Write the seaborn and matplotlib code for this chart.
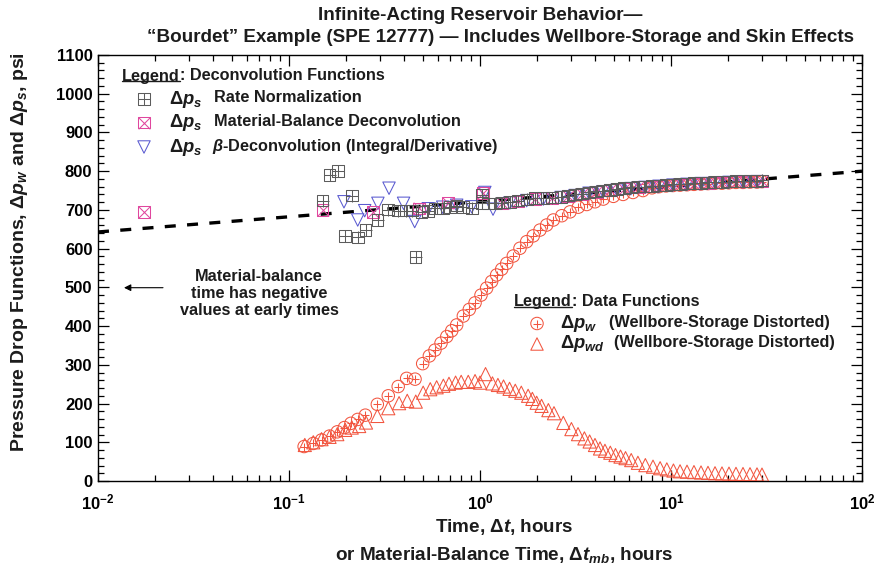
import numpy as np
import matplotlib
matplotlib.use('Agg')
import matplotlib.pyplot as plt
from matplotlib import font_manager
from matplotlib.lines import Line2D
from matplotlib.ticker import MultipleLocator, LogLocator, NullFormatter, FuncFormatter
import seaborn as sns

# Data
# rate normalization, delta p_s (gray squares with plus)
sq_t = [0.150, 0.163, 0.180, 0.197, 0.214, 0.229, 0.252, 0.291, 0.331, 0.373,
        0.410, 0.443, 0.460, 0.495, 0.536, 0.581, 0.638, 0.697, 0.755, 0.812,
        0.905, 1.021, 1.021, 1.105, 1.198, 1.299, 1.435, 1.586, 1.756, 1.941,
        2.145, 2.374, 2.656, 2.889, 3.144, 3.420, 3.722, 4.049, 4.406, 4.793,
        5.216, 5.674, 6.174, 6.717, 7.310, 7.952, 8.653, 9.415, 10.24, 11.15,
        12.13, 13.19, 14.36, 15.62, 17.00, 18.49, 20.12, 21.89, 23.82, 25.92,
        28.20, 29.95]
sq_p = [724, 790, 801, 633, 737, 629, 648, 674, 701, 698,
        698, 698, 579, 695, 697, 704, 704, 707, 711, 707,
        704, 738, 718, 717, 717, 719, 721, 724, 727, 730,
        730, 732, 734, 737, 740, 742, 745, 748, 750, 752,
        754, 756, 758, 760, 760, 761, 763, 765, 766, 767,
        768, 769, 770, 771, 772, 772, 773, 774, 774, 775,
        775, 776]

# material-balance deconvolution (pink squares with x)
mb_t = [0.0174, 0.150, 0.275, 0.480, 0.68, 1.04, 1.299, 1.586, 1.941, 2.374,
        2.889, 3.420, 4.049, 4.793, 5.674, 6.717, 7.952, 9.415, 11.15, 13.19,
        15.62, 18.49, 21.89, 25.92, 29.95]
mb_p = [694, 700, 695, 704, 719, 744, 717, 722, 728, 731,
        736, 741, 747, 751, 755, 759, 760, 764, 766, 768,
        770, 771, 773, 774, 775]

# beta-deconvolution (blue down triangles)
beta_t = [0.194, 0.229, 0.249, 0.292, 0.334, 0.398, 0.455, 0.536, 0.638, 0.755,
          0.905, 1.06, 1.17, 1.435, 1.756, 2.145, 2.656, 3.144, 3.722, 4.406,
          5.216, 6.174, 7.31, 8.653, 10.24, 12.13, 14.36, 17.0, 20.12, 23.82,
          28.2]
beta_p = [721, 674, 698, 717, 756, 717, 670, 703, 707, 712,
          708, 745, 702, 718, 724, 728, 732, 737, 743, 747,
          751, 755, 758, 761, 764, 766, 768, 770, 771, 772,
          773]

# wellbore-storage distorted pressure drop, delta p_w (red circles with plus)
pw_t = [0.120, 0.134, 0.148, 0.163, 0.179, 0.195, 0.211, 0.229, 0.251, 0.290,
        0.331, 0.373, 0.413, 0.457, 0.501, 0.543, 0.581, 0.625, 0.670, 0.711,
        0.755, 0.818, 0.879, 0.942, 1.012, 1.083, 1.150, 1.222, 1.299, 1.380,
        1.494, 1.619, 1.755, 1.901, 2.061, 2.234, 2.421, 2.679, 2.960, 3.271,
        3.620, 4.000, 4.420, 4.990, 5.610, 6.320, 7.130, 7.950, 8.650, 9.420,
        10.24, 11.15, 12.13, 13.19, 14.36, 15.62, 17.00, 18.49, 20.12, 21.89,
        23.82, 25.92, 28.20, 29.95]
pw_p = [89, 97, 106, 116, 127, 138, 149, 159, 170, 198,
        220, 244, 265, 263, 303, 323, 338, 356, 373, 388,
        403, 426, 443, 460, 480, 498, 515, 532, 547, 562,
        581, 601, 618, 633, 648, 661, 674, 685, 695, 707,
        714, 721, 728, 735, 740, 745, 750, 757, 760, 762,
        763, 764, 765, 766, 767, 768, 769, 769, 770, 771,
        771, 772, 772, 773]

# pressure derivative, delta p_wd (red triangles)
pwd_t = [0.121, 0.134, 0.148, 0.163, 0.179, 0.197, 0.213, 0.233, 0.253, 0.290,
         0.331, 0.377, 0.416, 0.461, 0.504, 0.549, 0.593, 0.643, 0.688, 0.745,
         0.797, 0.868, 0.942, 1.000, 1.069, 1.162, 1.241, 1.328, 1.428, 1.530,
         1.645, 1.786, 1.880, 1.980, 2.100, 2.280, 2.440, 2.730, 3.010, 3.260,
         3.520, 3.750, 4.000, 4.250, 4.510, 4.810, 5.120, 5.440, 5.780, 6.190,
         6.710, 7.340, 8.050, 8.770, 9.510, 10.30, 11.15, 12.13, 13.19, 14.36,
         15.62, 17.00, 18.49, 20.12, 21.89, 23.82, 25.92, 28.20, 29.95]
pwd_p = [93, 100, 108, 114, 121, 132, 138, 142, 151, 168,
         188, 201, 207, 205, 228, 237, 242, 246, 251, 254,
         256, 256, 258, 254, 276, 252, 248, 244, 238, 233,
         228, 220, 212, 202, 194, 183, 175, 150, 134, 121,
         110, 102, 93, 84, 78, 73, 67, 63, 59, 54,
         47, 41, 37, 33, 30, 27, 25, 24, 23, 22,
         21, 20, 19.5, 19, 18.5, 18, 17.5, 17, 16.5]

# semilog straight line (infinite-acting radial flow)
line_t = [0.01, 100]
line_p = [643, 800]

GRAY = '#5c5c5c'
PINK = '#e0479e'
BLUE = '#5a5ad0'
RED = '#f2553f'
TXT = '#1c1c1c'

# Style
sns.set_style('ticks', {'axes.edgecolor': 'black', 'xtick.color': 'black',
                        'ytick.color': 'black', 'text.color': TXT,
                        'axes.labelcolor': TXT})
names = {f.name for f in font_manager.fontManager.ttflist}
narrow = 'Liberation Sans Narrow' if 'Liberation Sans Narrow' in names else 'Liberation Sans'
is_narrow = narrow == 'Liberation Sans Narrow'
tick_fs = 14 if is_narrow else 12
head_fs = 15.5 if is_narrow else 13.6
plt.rcParams['font.family'] = ['Liberation Sans', 'DejaVu Sans']
plt.rcParams['font.weight'] = 'bold'
plt.rcParams['mathtext.fontset'] = 'custom'
plt.rcParams['mathtext.rm'] = 'Liberation Sans'
plt.rcParams['mathtext.it'] = 'Liberation Sans:italic:bold'
plt.rcParams['mathtext.bf'] = narrow + ':bold'

fig, ax = plt.subplots(figsize=(8.86, 5.71), dpi=100)
fig.subplots_adjust(left=98 / 886, right=862 / 886, bottom=90 / 571, top=516 / 571)
ax.set_xscale('log')


def hollow(x, y, marker, color, size, inner=None, inner_scale=1.0, z=3):
    sns.scatterplot(x=x, y=y, ax=ax, marker=marker, s=size, facecolor='none',
                    edgecolor=color, linewidth=0.75, zorder=z)
    if inner:
        sns.scatterplot(x=x, y=y, ax=ax, marker=inner, s=size * inner_scale,
                        color=color, linewidth=0.75, zorder=z)


sns.lineplot(x=line_t, y=line_p, ax=ax, color='black', linewidth=2.4,
             linestyle=(0, (3.3, 3.4)), zorder=2)
hollow(pw_t, pw_p, 'o', RED, 80, '+', 0.5, z=3)
hollow(pwd_t, pwd_p, '^', RED, 90, z=3)
hollow(beta_t, beta_p, 'v', BLUE, 80, z=4)
hollow(mb_t, mb_p, 's', PINK, 70, 'x', 1.0, z=5)
hollow(sq_t, sq_p, 's', GRAY, 70, '+', 1.0, z=6)

# Axes
ax.set_xlim(0.01, 100)
ax.set_ylim(0, 1100)
ax.yaxis.set_major_locator(MultipleLocator(100))
ax.yaxis.set_minor_locator(MultipleLocator(20))
ax.xaxis.set_major_locator(LogLocator(base=10))
ax.xaxis.set_minor_locator(LogLocator(base=10, subs=np.arange(2, 10)))
ax.xaxis.set_minor_formatter(NullFormatter())
ax.xaxis.set_major_formatter(FuncFormatter(
    lambda v, pos: r'$\mathbf{10^{%d}}$' % round(np.log10(v))))
ax.tick_params(which='both', direction='in', top=True, right=True,
               width=0.9, labelsize=tick_fs, labelfontfamily=narrow)
ax.tick_params(which='major', length=8)
ax.tick_params(which='minor', length=4.5)
ax.tick_params(axis='x', pad=8)
ax.tick_params(axis='y', pad=4)
for s in ax.spines.values():
    s.set_linewidth(1.0)
ax.set_xlabel('')
ax.set_ylabel('')


def fx(px):
    return (px - 98) / 764


def fy(py):
    return (481 - py) / 426


def legend_marker(px, py, marker, color, size, inner=None, inner_scale=1.0):
    ax.scatter([fx(px)], [fy(py)], marker=marker, s=size, facecolor='none',
               edgecolor=color, linewidth=0.75, transform=ax.transAxes,
               clip_on=False, zorder=7)
    if inner:
        ax.scatter([fx(px)], [fy(py)], marker=inner, s=size * inner_scale,
                   color=color, linewidth=0.75, transform=ax.transAxes,
                   clip_on=False, zorder=7)


LFS = 11.7
# Legend 1: deconvolution functions
h1 = ax.text(fx(122), fy(76), 'Legend', fontsize=LFS, ha='left', va='center',
             transform=ax.transAxes)
ax.annotate(': Deconvolution Functions', xy=(1, 0), xycoords=h1, ha='left',
            va='bottom', fontsize=LFS)
rows1 = [(99, 's', GRAY, '+', 'Rate Normalization', 214),
         (122.5, 's', PINK, 'x', 'Material-Balance Deconvolution', 214),
         (147, 'v', BLUE, None, r'$\beta$-Deconvolution (Integral/Derivative)', 212)]
for py, m, c, inner, label, tx in rows1:
    legend_marker(144, py, m, c, 80 if m == 'v' else 70, inner)
    ax.text(fx(169), fy(py), r'$\Delta p_s$', fontsize=LFS + 1.5, ha='left',
            va='center', transform=ax.transAxes)
    ax.text(fx(tx), fy(py - 1), label, fontsize=LFS, ha='left', va='center',
            transform=ax.transAxes)

# Legend 2: data functions
h2 = ax.text(fx(514), fy(301.5), 'Legend', fontsize=LFS, ha='left',
             va='center', transform=ax.transAxes)
ax.annotate(': Data Functions', xy=(1, 0), xycoords=h2, ha='left',
            va='bottom', fontsize=LFS)
rows2 = [(323.5, 'o', '+', r'$\Delta p_w$', 609),
         (344, '^', None, r'$\Delta p_{wd}$', 614)]
for py, m, inner, sym, tx in rows2:
    legend_marker(537, py, m, RED, 80, inner, 0.5)
    ax.text(fx(560), fy(py), sym, fontsize=LFS + 1.5, ha='left', va='center',
            transform=ax.transAxes)
    ax.text(fx(tx), fy(py - 1), '(Wellbore-Storage Distorted)', fontsize=LFS,
            ha='left', va='center', transform=ax.transAxes)

# Note about negative material-balance time
ax.text(fx(259), fy(293.5), 'Material-balance\ntime has negative\nvalues at early times',
        fontsize=LFS, ha='center', va='center', linespacing=1.2,
        transform=ax.transAxes)
ax.annotate('', xy=(fx(124), fy(287.7)), xytext=(fx(163), fy(287.7)),
            xycoords='axes fraction', textcoords='axes fraction',
            arrowprops=dict(arrowstyle='-|>', color='black', lw=0.8,
                            mutation_scale=10, shrinkA=0, shrinkB=0))

# Titles and axis labels
fig.text(480 / 886, 1 - 15 / 571, 'Infinite-Acting Reservoir Behavior\u2014',
         ha='center', va='center', fontsize=head_fs, family=narrow)
fig.text(500 / 886, 1 - 38 / 571,
         '\u201cBourdet\u201d Example (SPE 12777) \u2014 Includes Wellbore-Storage and Skin Effects',
         ha='center', va='center', fontsize=head_fs, family=narrow)
fig.text(504 / 886, 1 - 527 / 571, r'Time, $\Delta t$, hours', ha='center',
         va='center', fontsize=head_fs, family=narrow)
fig.text(504 / 886, 1 - 555 / 571, r'or Material-Balance Time, $\Delta t_{mb}$, hours',
         ha='center', va='center', fontsize=head_fs, family=narrow)
fig.text(20 / 886, 1 - 252 / 571,
         r'Pressure Drop Functions, $\Delta p_w$ and $\Delta p_s$, psi',
         ha='center', va='center', rotation=90, fontsize=14)

# underline the two "Legend" words
fig.canvas.draw()
r = fig.canvas.get_renderer()
for h in (h1, h2):
    bb = h.get_window_extent(r).transformed(fig.transFigure.inverted())
    yy = bb.y0 + 2.5 / 571
    fig.add_artist(Line2D([bb.x0, bb.x1], [yy, yy], transform=fig.transFigure,
                          color=TXT, lw=1.0))

plt.savefig('out.png', dpi=100)
